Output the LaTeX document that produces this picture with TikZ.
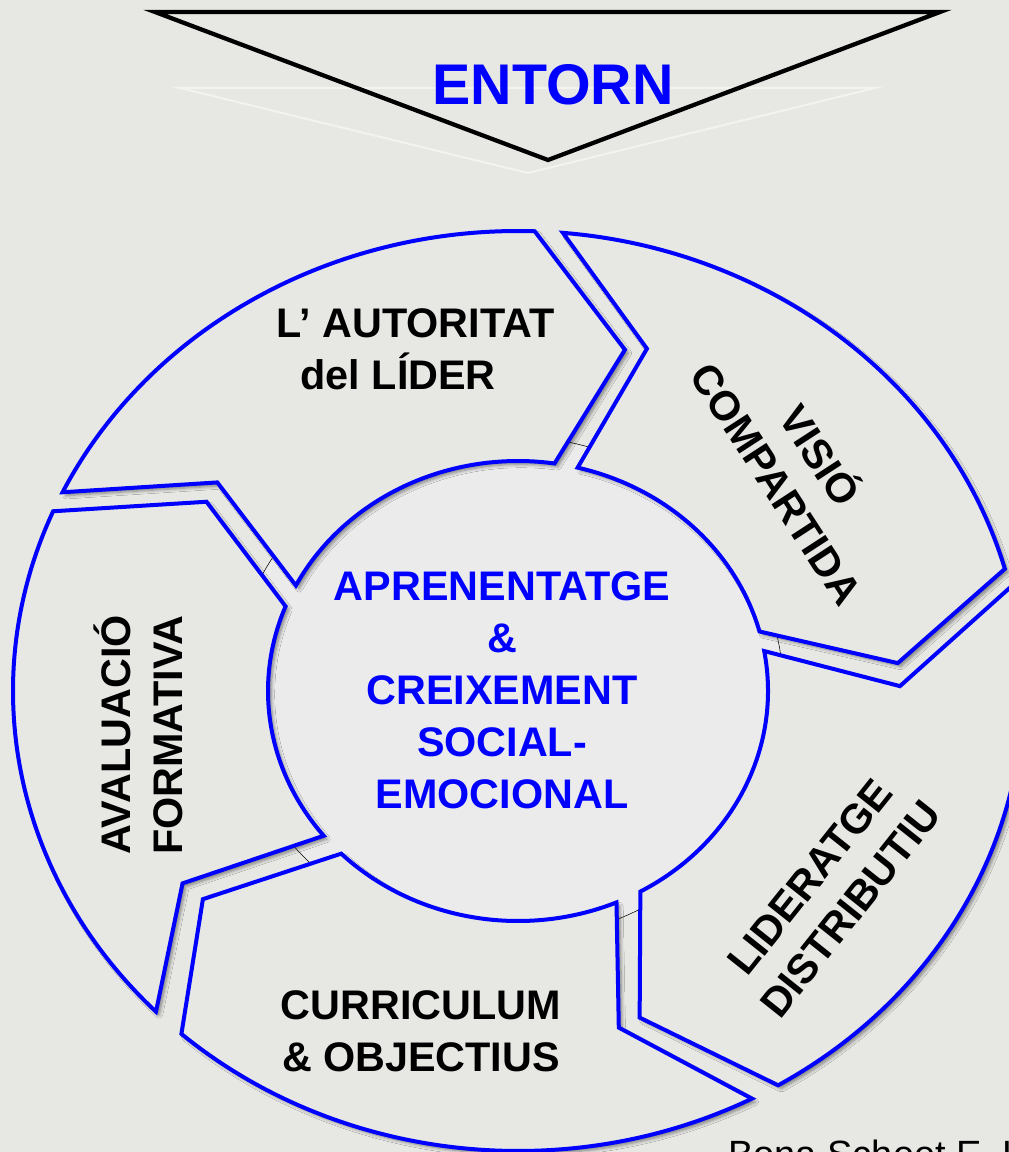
\documentclass[tikz,border=0pt]{standalone}
\usepackage{fontspec}
\setmainfont{Liberation Sans}
\usetikzlibrary{shadows.blur}
\definecolor{granite}{RGB}{231,231,228}
\definecolor{hub}{RGB}{235,235,235}
\definecolor{ghost}{RGB}{244,243,238}
\tikzset{
  sector/.style={draw=blue,line width=3pt,fill=granite,
    blur shadow={shadow xshift=2.5pt,shadow yshift=-2.5pt,shadow blur radius=2.5pt,shadow blur steps=6,shadow opacity=45}},
  caption/.style={font=\bfseries\fontsize{31}{39}\selectfont,align=center,inner sep=0pt}
}
\begin{document}
\begin{tikzpicture}[x=0.75pt,y=0.75pt]
	    \fill[granite](0,0) rectangle (1009,-1152);
	    \useasboundingbox (0,0) rectangle (1009,-1152);
	    \draw[ghost,line width=1.5pt](180,-88)--(875,-88)--(528,-173)--cycle;
	    \draw[line width=3.2pt](155,-12)--(940,-12)--(548,-160)--cycle;
	    \node[caption,font=\bfseries\fontsize{43}{50}\selectfont,text=blue] (entorn) at (553,-84.5) {ENTORN};
	    \begin{scope}[shift={(518,-691)}]
	    \filldraw[hub,draw=black,thin](-10,3) ellipse (275 and 252);
	    \path[sector](154.4:505 and 460) arc(154.4:88.1:505 and 460)--(74:388 and 355)--(81.6:250 and 230) arc(81.6:152.7:250 and 230)--(142.8:377.5 and 345)--cycle;
	    \path[sector](84.9:505 and 460) arc(84.9:15.4:505 and 460)--(4.6:381 and 348)--(15:250 and 230) arc(15:76.2:250 and 230)--(71:396 and 362)--cycle;
	    \path[sector](13:505 and 460) arc(13:-59:505 and 460)--(-71.2:377.5 and 345)--(-60.7:250 and 230) arc(-60.7:10:250 and 230)--(0.8:382 and 349)--cycle;
	    \path[sector](-62.4:505 and 460) arc(-62.4:-131.8:505 and 460)--(-144.1:389 and 355)--(-135:250 and 230) arc(-135:-66.8:250 and 230)--(-74.7:382 and 349)--cycle;
	    \path[sector](-135.8:505 and 460) arc(-135.8:-203:505 and 460)--(-213.6:374 and 342)--(-201.6:250 and 230) arc(-201.6:-141:250 and 230)--(-147.9:396 and 362)--cycle;
	    \end{scope}
	    \node[caption,align=left] (autoritat) at (415.5,-349) {L’ AUTORITAT\\\hspace*{18pt}del LÍDER};
	    \node[caption,rotate=-57] (visio) at (801,-468) {VISIÓ\\COMPARTIDA};
	    \node[caption,rotate=51.5] (lideratge) at (830,-893) {LIDERATGE\\DISTRIBUTIU};
	    \node[caption] (curriculum) at (421,-1031) {CURRICULUM\\\& OBJECTIUS};
	    \node[caption,rotate=90] (avaluacio) at (138,-735) {AVALUACIÓ\\FORMATIVA};
	    \node[caption,text=blue] (aprenentatge) at (502,-690) {APRENENTATGE\\\&\\CREIXEMENT\\SOCIAL-\\EMOCIONAL};
	    \node[anchor=base west,inner sep=0pt,font=\fontsize{28.5}{34}\selectfont] (credit) at (728,-1167) {Bona Scheet E. H.};
	\end{tikzpicture}
\end{document}
